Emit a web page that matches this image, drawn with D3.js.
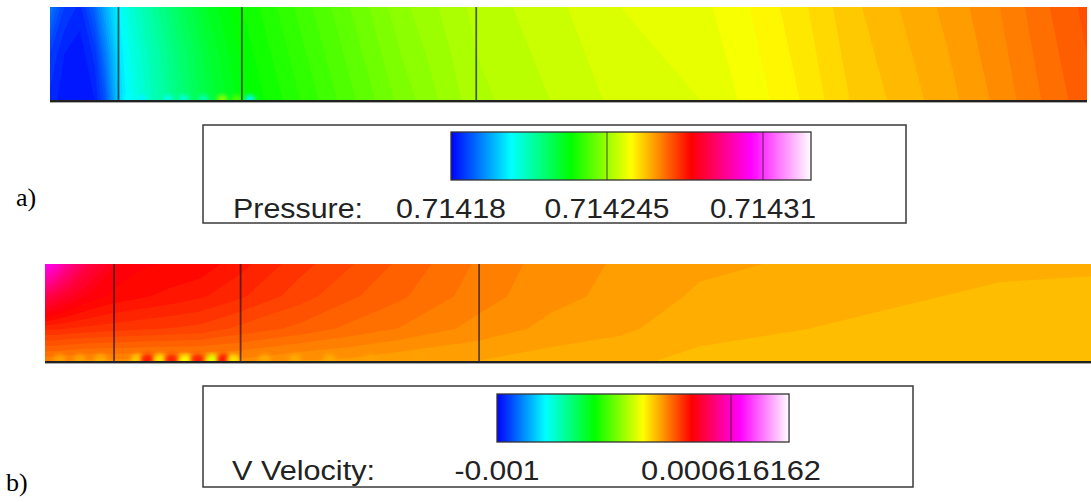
<!DOCTYPE html>
<html><head><meta charset="utf-8">
<script src="https://cdn.jsdelivr.net/npm/d3@7"></script>
<style>body{margin:0;background:#fff}svg{display:block}</style>
</head><body><script>
// ---------------- DATA ----------------
// colormap (Fluent rainbow)
const rainbow = ['#0000ff','#00ffff','#00ff00','#ffff00','#ff0000','#ff00ff','#ffffff'];

// Panel a) static pressure field, columns in % of channel length, rows: top, middle, bottom
const pressureCols = [0,1.4,2.9,4.3,5.3,6.6,7.7,9.6,12.5,15.4,18.5,24.1,28.9,33.8,41.1,48.2,55.0,62.7,67.5,72.3,77.1,81.9,86.7,91.6,96.4,100];
const pressureTop = [0.714192,0.714186,0.714184,0.714190,0.714197,0.714204,0.714209,0.714214,0.714221,0.714227,0.714231,0.714236,0.714240,0.714244,0.714248,0.714250,0.714252,0.714253,0.714255,0.7142575,0.7142605,0.7142625,0.7142645,0.714267,0.714270,0.714272];
const pressureMid = [0.714186,0.714183,0.714182,0.714185,0.714192,0.714202,0.714207,0.714212,0.714219,0.714225,0.714230,0.714235,0.714239,0.714243,0.7142475,0.7142495,0.7142515,0.7142525,0.7142545,0.714257,0.714260,0.714262,0.714264,0.7142665,0.7142695,0.7142715];
const pressureBottom = [0.714184,0.714182,0.714182,0.714183,0.714188,0.714200,0.714206,0.714211,0.714218,0.714224,0.714229,0.714234,0.714238,0.714242,0.714247,0.714249,0.714251,0.714252,0.714254,0.7142565,0.7142595,0.7142615,0.7142635,0.714266,0.714269,0.714271];
const pressureSpotX = [7.5,8.9,11.4,12.9,14.8,16.6,18.0,19.3];
const pressureSpotV = [0.714205,0.714204,0.714207,0.714208,0.714212,0.714245,0.714238,0.714204];
const pressureStops = [0.71418,0.714205,0.71423,0.714255,0.71428,0.714305,0.71433];
const pressureTicks = [0.71418,0.714245,0.71431];
const pressureTickLabels = ['0.71418','0.714245','0.71431'];
const pressureDividers = [6.6,18.5,41.1];

// Panel b) V velocity field, rows: top, 1/3, 2/3, bottom
const velocityCols = [0,1.0,2.4,4.3,6.6,9.1,12.0,14.8,18.7,24.4,29.2,33.9,41.5,48.3,55.0,62.6,72.2,81.7,91.3,100];
const velocityTop = [0.00068,0.00062,0.00052,0.00043,0.00037,0.00035,0.000345,0.00034,0.000314,0.000274,0.000248,0.000222,0.000182,0.000156,0.000143,0.000130,0.000123,0.000114,0.000110,0.000110];
const velocityUpper = [0.00045,0.00042,0.00039,0.00036,0.00034,0.00033,0.00032,0.00031,0.00029,0.000255,0.00023,0.00021,0.000175,0.000152,0.00014,0.000122,0.000116,0.000108,0.000102,0.000098];
const velocityLower = [0.00029,0.00029,0.000285,0.00028,0.000275,0.00027,0.000265,0.00026,0.00024,0.00022,0.0002,0.000185,0.000158,0.00014,0.00013,0.000112,0.000106,0.0001,0.000096,0.000093];
const velocityBottom = [0.00017,0.00017,0.000165,0.00016,0.00016,0.00016,0.00016,0.00016,0.00016,0.000145,0.00014,0.00013,0.000125,0.000115,0.00011,0.0001,0.000095,0.00009,0.000088,0.000087];
const velocitySpotX = [1.4,3.3,5.3,8.8,9.8,11.0,12.1,13.4,14.6,16.0,17.1,18.0,21.0,23.9,27.2,31.1,35.9];
const velocitySpotV = [0.00013,0.00013,0.00012,0.00008,0.00031,0.00005,0.0003,0.00002,0.0003,-0.00003,0.00032,0.00005,0.00012,0.00012,0.00012,0.00013,0.00013];
const velocityStops = [-0.001,-0.000664,-0.000328,0.000008,0.000344,0.00068,0.001017];
const velocityTicks = [-0.001,0.000616162];
const velocityTickLabels = ['-0.001','0.000616162'];
const velocityDividers = [6.6,18.7,41.5];

// ---------------- DRAW ----------------
const W = 1091, H = 502;
const svg = d3.select('body').append('svg').attr('width', W).attr('height', H);
const defs = svg.append('defs');
defs.append('filter').attr('id','blur').attr('x','-50%').attr('y','-50%').attr('width','200%').attr('height','200%')
  .append('feGaussianBlur').attr('stdDeviation', 2);

function drawField(opt) {
  const {id, cols, rows, depths, stops, step, x0, x1, y0, y1, dividers, spotX, spotV, spotR} = opt;
  const color = d3.scaleLinear().domain(stops).range(rainbow).clamp(true);
  const xs = d3.scaleLinear().domain([0, 100]).range([x0, x1]);
  const ys = d3.scaleLinear().domain([0, 1]).range([y0, y1]);
  const n = cols.length, m = rows.length;
  const ix = d3.scaleLinear().domain(d3.range(n)).range(cols.map(xs)).clamp(true);
  const iy = d3.scaleLinear().domain(d3.range(m)).range(depths.map(ys)).clamp(true);
  const values = [].concat(...rows);
  const lo = d3.min(values), hi = d3.max(values);
  const thresholds = d3.range(stops[0], stops[stops.length - 1], step).filter(t => t > lo - step && t <= hi);
  const contours = d3.contours().size([n, m]).thresholds(thresholds)(values);
  const proj = d3.geoTransform({point(x, y) { this.stream.point(ix(x - 0.5), iy(y - 0.5)); }});
  const path = d3.geoPath(proj);
  defs.append('clipPath').attr('id', 'clip' + id).append('rect')
    .attr('x', x0).attr('y', y0).attr('width', x1 - x0).attr('height', y1 - y0);
  const g = svg.append('g').attr('clip-path', `url(#clip${id})`);
  g.append('rect').attr('x', x0).attr('y', y0).attr('width', x1 - x0).attr('height', y1 - y0)
    .attr('fill', color(lo));
  g.selectAll('path.band').data(contours).join('path').attr('class', 'band')
    .attr('d', path).attr('fill', d => color(d.value + step / 2));
  g.selectAll('ellipse').data(spotX.map((x, i) => ({x, v: spotV[i]}))).join('ellipse')
    .attr('cx', d => xs(d.x)).attr('cy', y1 - 1).attr('rx', spotR[0]).attr('ry', spotR[1])
    .attr('fill', d => color(d.v)).attr('filter', 'url(#blur)');
  // divider lines
  svg.append('g').selectAll('line').data(dividers).join('line')
    .attr('x1', d => xs(d)).attr('x2', d => xs(d)).attr('y1', y0).attr('y2', y1)
    .attr('stroke', '#111').attr('stroke-opacity', 0.65).attr('stroke-width', 1.8);
  // bottom wall
  svg.append('line').attr('x1', x0).attr('x2', x1).attr('y1', y1 + 1).attr('y2', y1 + 1)
    .attr('stroke', '#222').attr('stroke-width', 2);
  svg.append('line').attr('x1', x0).attr('x2', x1).attr('y1', y1 + 2.5).attr('y2', y1 + 2.5)
    .attr('stroke', '#aaa').attr('stroke-width', 1);
  return color;
}

function drawLegend(opt) {
  const {id, box, bar, stops, ticks, tickLabels, dividers, title, titleX, labelLens, titleLen, baseline, range} = opt;
  svg.append('rect').attr('x', box[0]).attr('y', box[1]).attr('width', box[2] - box[0]).attr('height', box[3] - box[1])
    .attr('fill', '#fff').attr('stroke', '#3a3a3a').attr('stroke-width', 1.5);
  const xb = d3.scaleLinear().domain(range).range([bar[0], bar[2]]);
  const bx0 = xb(stops[0]), bx1 = xb(stops[stops.length - 1]);
  const grad = defs.append('linearGradient').attr('id', 'grad' + id).attr('x1', 0).attr('x2', 1).attr('y1', 0).attr('y2', 0);
  stops.forEach((s, i) => grad.append('stop').attr('offset', (xb(s) - bx0) / (bx1 - bx0)).attr('stop-color', rainbow[i]));
  svg.append('rect').attr('x', bx0).attr('y', bar[1]).attr('width', bx1 - bx0).attr('height', bar[3] - bar[1])
    .attr('fill', `url(#grad${id})`).attr('stroke', '#333').attr('stroke-width', 1.3);
  svg.append('g').selectAll('line').data(dividers).join('line')
    .attr('x1', d => xb(d)).attr('x2', d => xb(d)).attr('y1', bar[1]).attr('y2', bar[3])
    .attr('stroke', '#222').attr('stroke-opacity', 0.6).attr('stroke-width', 1.3);
  const font = '"Liberation Sans", Arial, sans-serif';
  svg.append('text').attr('x', titleX).attr('y', baseline).text(title)
    .attr('font-family', font).attr('font-size', 27).attr('fill', '#222')
    .attr('textLength', titleLen).attr('lengthAdjust', 'spacingAndGlyphs');
  svg.append('g').selectAll('text').data(ticks).join('text')
    .attr('x', (d, i) => xb(d) - labelLens[i] / 2).attr('y', baseline)
    .text((d, i) => tickLabels[i])
    .attr('font-family', font).attr('font-size', 27).attr('fill', '#222')
    .attr('textLength', (d, i) => labelLens[i]).attr('lengthAdjust', 'spacingAndGlyphs');
}

drawField({id: 'a', cols: pressureCols, rows: [pressureTop, pressureMid, pressureBottom], depths: [0, 0.5, 1],
  stops: pressureStops, step: 0.0000015, x0: 50, x1: 1087, y0: 7, y1: 100,
  dividers: pressureDividers, spotX: pressureSpotX, spotV: pressureSpotV, spotR: [5, 4]});
drawField({id: 'b', cols: velocityCols, rows: [velocityTop, velocityUpper, velocityLower, velocityBottom], depths: [0, 1/3, 2/3, 1],
  stops: velocityStops, step: 0.0000201, x0: 45, x1: 1091, y0: 264, y1: 361,
  dividers: velocityDividers, spotX: velocitySpotX, spotV: velocitySpotV, spotR: [6.5, 6]});

drawLegend({id: 'a', box: [203, 125, 906, 223], bar: [451, 132, 763, 180], range: [0.71418, 0.71431],
  stops: pressureStops, ticks: pressureTicks, tickLabels: pressureTickLabels, dividers: pressureTicks.slice(1),
  title: 'Pressure:', titleX: 233, titleLen: 130, labelLens: [110, 125, 106], baseline: 218});
drawLegend({id: 'b', box: [203, 386, 913, 487], bar: [497, 394, 731, 442], range: [-0.001, 0.000616162],
  stops: velocityStops, ticks: velocityTicks, tickLabels: velocityTickLabels, dividers: velocityTicks.slice(1),
  title: 'V Velocity:', titleX: 232, titleLen: 143, labelLens: [85, 180], baseline: 480});

const serif = '"Liberation Serif", "Times New Roman", serif';
svg.append('text').attr('x', 16).attr('y', 206).text('a)').attr('font-family', serif).attr('font-size', 26).attr('fill', '#000');
svg.append('text').attr('x', 6).attr('y', 491).text('b)').attr('font-family', serif).attr('font-size', 26).attr('fill', '#000');
</script></body></html>
